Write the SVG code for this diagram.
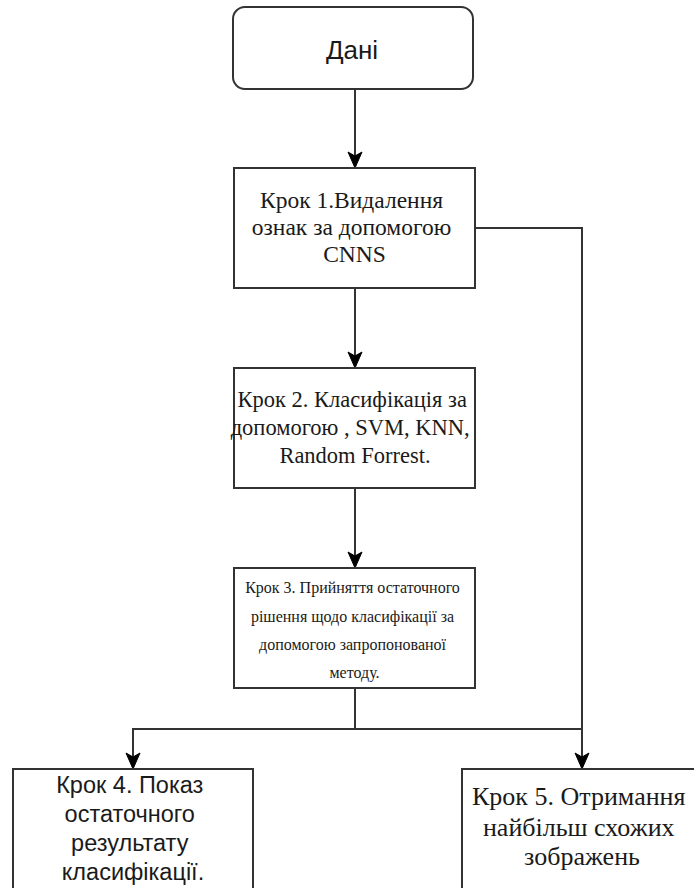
<svg xmlns="http://www.w3.org/2000/svg" width="694" height="888" viewBox="0 0 694 888">
  <style>
    .box { fill: #ffffff; stroke: #333333; stroke-width: 2; }
    .edge { fill: none; stroke: #333333; stroke-width: 2; }
    .head { fill: #000000; stroke: #000000; stroke-width: 1; stroke-linejoin: miter; }
    .sans { font-family: "Liberation Sans", Arial, sans-serif; fill: #1a1a1a; text-anchor: middle; }
    .serif { font-family: "Liberation Serif", "Times New Roman", serif; fill: #1a1a1a; text-anchor: middle; }
  </style>
  <defs>
    <!-- notched block arrowhead, tip at (0,0), pointing down -->
    <path id="arrow-down" d="M0,0 L-7,-16 L0,-12 L7,-16 Z"/>
  </defs>

  <!-- connectors -->
  <g id="edges">
    <path class="edge" d="M355,89 V156"/>
    <use href="#arrow-down" class="head" x="355" y="168"/>

    <path class="edge" d="M355,288 V356"/>
    <use href="#arrow-down" class="head" x="355" y="368"/>

    <path class="edge" d="M355,488 V556"/>
    <use href="#arrow-down" class="head" x="355" y="568"/>

    <path class="edge" d="M475,228 H582 V757"/>
    <use href="#arrow-down" class="head" x="582" y="769"/>

    <path class="edge" d="M355,688 V729 H582"/>
    <path class="edge" d="M355,729 H133 V757"/>
    <use href="#arrow-down" class="head" x="133" y="769"/>
  </g>

  <g id="node-data">
    <rect class="box" x="233" y="7" width="240" height="82" rx="12" ry="12"/>
    <text class="sans" x="352" y="59" font-size="26">Дані</text>
  </g>

  <g id="node-step1">
    <rect class="box" x="234" y="168" width="241" height="120"/>
    <text class="serif" font-size="23.5">
      <tspan x="354.5" y="208">Крок 1.Видалення</tspan>
      <tspan x="354.5" y="235">ознак за допомогою</tspan>
      <tspan x="354.5" y="262">CNNS</tspan>
    </text>
  </g>

  <g id="node-step2">
    <rect class="box" x="234" y="368" width="241" height="120"/>
    <text class="serif" font-size="22.5">
      <tspan x="355" y="407">Крок 2. Класифікація за</tspan>
      <tspan x="353" y="435">допомогою , SVM, KNN,</tspan>
      <tspan x="355" y="463">Random Forrest.</tspan>
    </text>
  </g>

  <g id="node-step3">
    <rect class="box" x="234" y="568" width="241" height="120"/>
    <text class="serif" font-size="16">
      <tspan x="354.5" y="593">Крок 3. Прийняття остаточного</tspan>
      <tspan x="354.5" y="622">рішення щодо класифікації за</tspan>
      <tspan x="354.5" y="650">допомогою запропонованої</tspan>
      <tspan x="354.5" y="678">методу.</tspan>
    </text>
  </g>

  <g id="node-step4">
    <rect class="box" x="13" y="769" width="240" height="140"/>
    <text class="sans" font-size="23.5">
      <tspan x="133" y="793">Крок 4. Показ</tspan>
      <tspan x="133" y="822">остаточного</tspan>
      <tspan x="133" y="851">результату</tspan>
      <tspan x="133" y="880">класифікації.</tspan>
    </text>
  </g>

  <g id="node-step5">
    <rect class="box" x="462" y="769" width="240" height="140"/>
    <text class="serif" font-size="26">
      <tspan x="582" y="805">Крок 5. Отримання</tspan>
      <tspan x="582" y="836">найбільш схожих</tspan>
      <tspan x="582" y="865">зображень</tspan>
    </text>
  </g>
</svg>
